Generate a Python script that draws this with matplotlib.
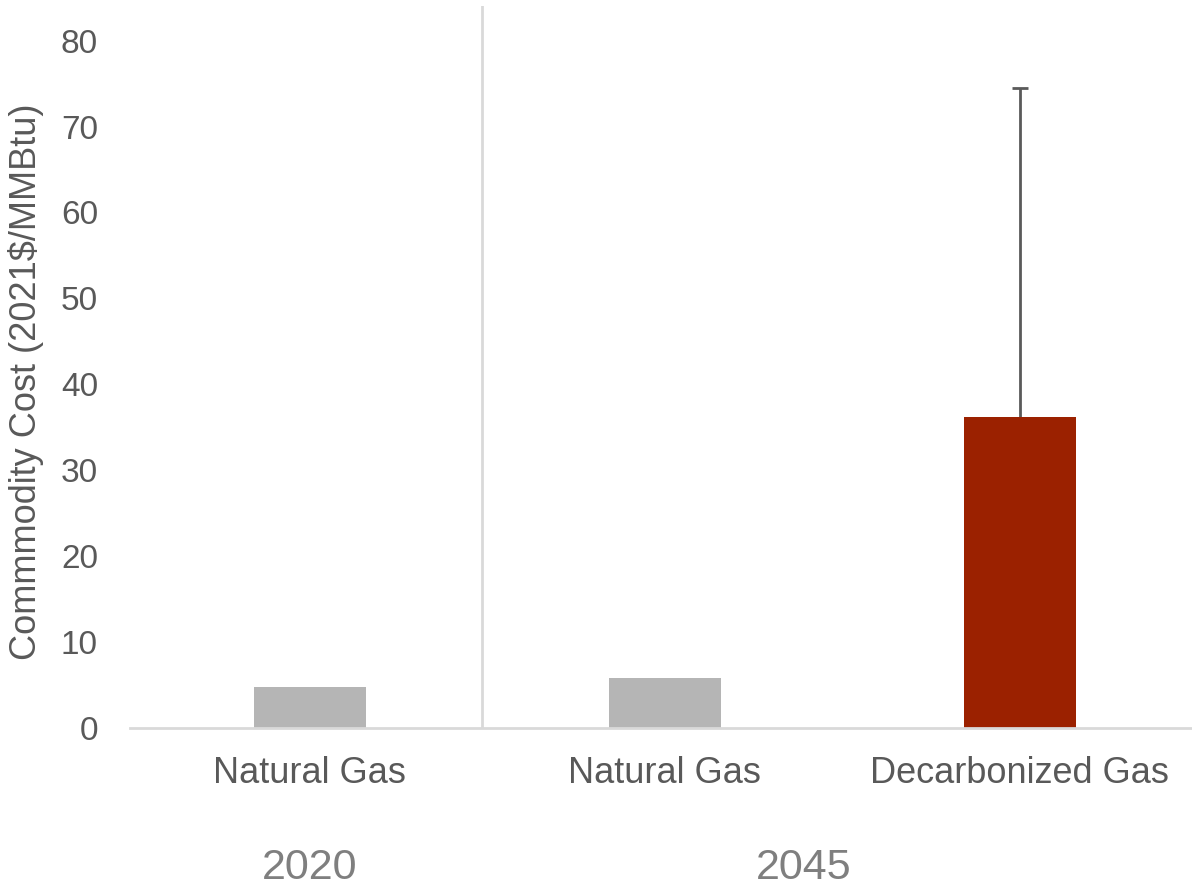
import matplotlib.pyplot as plt
import numpy as np

plt.rcParams['font.family'] = ['Liberation Sans', 'DejaVu Sans']

# data
categories = ['Natural Gas', 'Natural Gas', 'Decarbonized Gas']
values = [4.7, 5.8, 36.2]
err_upper = [0, 0, 38.3]          # decarbonized gas range top ~74.5
bar_colors = ['#b5b5b5', '#b5b5b5', '#9b2100']
groups = ['2020', '2045']
group_pos = [0.0, 1.39]

fig = plt.figure(figsize=(11.92, 8.93), dpi=100)
ax = fig.add_axes([0.109, 0.185, 0.891, 0.808])

x = np.arange(len(categories))
ax.bar(x, values, width=0.315, color=bar_colors, zorder=2)

# upper-only error bar: stem plus a single cap on top
xe = x[2:]
ye = np.array(values[2:])
ee = np.array(err_upper[2:])
ax.errorbar(xe, ye, yerr=[np.zeros_like(ee), ee], fmt='none', ecolor='#5a5a5a',
            elinewidth=2, capsize=0, zorder=1.5)
ax.plot(xe, ye + ee, linestyle='none', marker='_', ms=12, mew=2,
        color='#5a5a5a', zorder=1.5)

ax.set_xlim(-0.507, 2.485)
ax.set_ylim(0, 84)
ax.set_yticks(np.arange(0, 81, 10))
ax.set_xticks(x)
ax.set_xticklabels(categories)
ax.tick_params(axis='y', length=0, pad=23, labelsize=24, labelcolor='#595959')
ax.tick_params(axis='x', length=0, pad=20, labelsize=26, labelcolor='#595959')

for s in ['top', 'right', 'left']:
    ax.spines[s].set_visible(False)
ax.spines['bottom'].set_color('#d9d9d9')
ax.spines['bottom'].set_linewidth(2)

# separator between the year groups
ax.axvline(0.485, color='#d9d9d9', lw=2, zorder=1)

for g, p in zip(groups, group_pos):
    ax.text(p, -0.194, g, transform=ax.get_xaxis_transform(), ha='center',
            va='center', fontsize=31, color='#7f7f7f')

ax.set_ylabel('Commmodity Cost (2021$/MMBtu)', fontsize=26, color='#595959')
ax.yaxis.set_label_coords(-0.081, 0.48)

fig.savefig('out.png', dpi=100)
